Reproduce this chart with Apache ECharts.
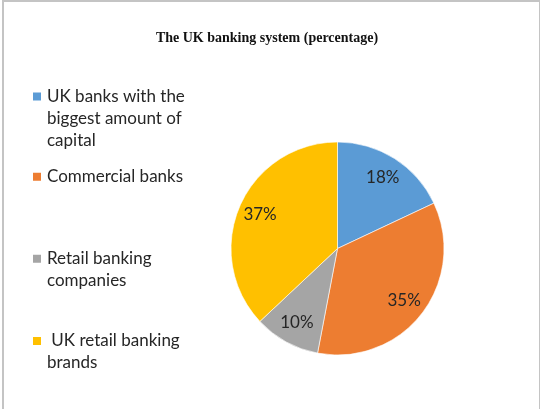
<!DOCTYPE html>
<html>
<head>
<meta charset="utf-8">
<script src="https://cdn.jsdelivr.net/npm/echarts@6/dist/echarts.min.js"></script>
<style>
  html, body { margin: 0; padding: 0; background: #fff; overflow: hidden; }
  #chart { position: absolute; left: 0; top: 0; width: 540px; height: 409px; }
  #frame { position: absolute; left: 2px; top: 0; width: 535px; height: 420px;
           border: 2px solid #c4c4c4; pointer-events: none; }
</style>
</head>
<body>
<div id="chart"></div>
<div id="frame"></div>
<script>
// data
const titleText = 'The UK banking system (percentage)';
const categories = [
    'UK banks with the\nbiggest amount of\ncapital',
    'Commercial banks',
    'Retail banking\ncompanies',
    ' UK retail banking\nbrands'
];
const values = [18, 35, 10, 37];
const colors = ['#5B9BD5', '#ED7D31', '#A5A5A5', '#FFC000'];

// layout
const center = [337.5, 248.5];
const radius = 106.5;
const lineH = 22;
const legendCenters = [96.5, 176.7, 258.7, 341];
const labelScale = 1.5; // inner label sits at r/2, move it out to ~0.75 r

const chart = echarts.init(document.getElementById('chart'));

// one legend per item so the spacing can follow the reference;
// blank lines on top keep the square level with the first text line
const legends = categories.map((name, i) => {
    const n = name.split('\n').length;
    return {
        data: [name],
        orient: 'vertical',
        left: 31,
        top: legendCenters[i] - (2 * n - 1) * lineH / 2,
        padding: 0,
        itemWidth: 10,
        itemHeight: 10,
        icon: 'rect',
        selectedMode: false,
        formatter: (s) => '\n'.repeat(n - 1) + s,
        textStyle: {
            fontFamily: 'Lato',
            fontSize: 17,
            color: '#262626',
            lineHeight: lineH
        }
    };
});

const option = {
    animation: false,
    title: {
        text: titleText,
        left: 262,
        textAlign: 'center',
        top: 26,
        textStyle: {
            fontFamily: 'Liberation Serif',
            fontWeight: 'bold',
            fontSize: 14,
            color: '#111'
        }
    },
    legend: legends,
    series: [{
        type: 'pie',
        center: center,
        radius: radius,
        startAngle: 90,
        clockwise: true,
        data: categories.map((name, i) => ({
            name: name,
            value: values[i],
            itemStyle: { color: colors[i] }
        })),
        itemStyle: { borderColor: '#fff', borderWidth: 0.6 },
        label: {
            position: 'inside',
            formatter: '{c}%',
            fontFamily: 'Lato',
            fontSize: 17,
            color: '#262626'
        },
        labelLine: { show: false },
        labelLayout: function (params) {
            const r = params.labelRect;
            const cx = r.x + r.width / 2;
            const cy = r.y + r.height / 2;
            return {
                x: center[0] + (cx - center[0]) * labelScale,
                y: center[1] + (cy - center[1]) * labelScale
            };
        },
        emphasis: { disabled: true }
    }]
};
chart.setOption(option);
</script>
</body>
</html>
